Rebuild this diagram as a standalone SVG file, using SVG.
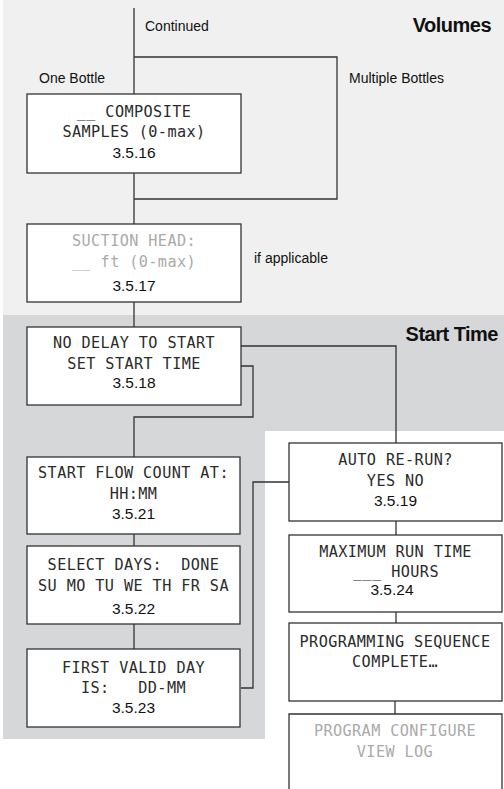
<svg xmlns="http://www.w3.org/2000/svg" width="504" height="789" viewBox="0 0 504 789">
<style>
.box{fill:#fff;stroke:#333;stroke-width:1.3}
.ln{fill:none;stroke:#333;stroke-width:1.3}
.m{font-family:"DejaVu Sans Mono","Liberation Mono",monospace;font-size:15.2px;fill:#2b2b2b;text-anchor:middle;letter-spacing:0.4px}
.g{fill:#aaa}
.n{font-family:"Liberation Sans",Arial,sans-serif;font-size:15.5px;fill:#111;text-anchor:middle}
.l{font-family:"Liberation Sans",Arial,sans-serif;font-size:14px;fill:#111}
.h{font-family:"Liberation Sans",Arial,sans-serif;font-size:20px;font-weight:bold;fill:#111;letter-spacing:-0.5px}
</style>
<g id="backgrounds">
<rect x="3" y="0" width="501" height="315" fill="#eff0ef"/>
<path d="M3 315 H504 V431 H265 V739 H3 Z" fill="#d6d7d8"/>
</g>
<g id="section-labels">
<text class="h" x="491" y="32" text-anchor="end">Volumes</text>
<text class="h" x="498" y="341" text-anchor="end">Start Time</text>
<text class="l" x="145" y="31">Continued</text>
<text class="l" x="39" y="83">One Bottle</text>
<text class="l" x="349" y="83">Multiple Bottles</text>
<text class="l" x="254" y="263">if applicable</text>
</g>
<g id="connectors">
<path class="ln" d="M134 8 V94"/>
<path class="ln" d="M134 57 H337 V199 H134"/>
<path class="ln" d="M134 173 V224"/>
<path class="ln" d="M134 302 V327"/>
<path class="ln" d="M241 346 H396 V443"/>
<path class="ln" d="M241 366 H253 V417 H134 V457"/>
<path class="ln" d="M134 534 V546"/>
<path class="ln" d="M134 624 V649"/>
<path class="ln" d="M241 688 H253 V482 H289"/>
<path class="ln" d="M396 521 V535"/>
<path class="ln" d="M396 612 V623"/>
<path class="ln" d="M395 701 V714"/>
</g>
<g id="n3516">
<rect class="box" x="27" y="94" width="214" height="79"/>
<text class="m" x="134" y="116.5">__ COMPOSITE</text>
<text class="m" x="134" y="136.5">SAMPLES (0-max)</text>
<text class="n" x="134" y="157.5">3.5.16</text>
</g>
<g id="n3517">
<rect class="box" x="27" y="224" width="214" height="78"/>
<text class="m g" x="134" y="246">SUCTION HEAD:</text>
<text class="m g" x="134" y="267">__ ft (0-max)</text>
<text class="n" x="134" y="291">3.5.17</text>
</g>
<g id="n3518">
<rect class="box" x="27" y="327" width="214" height="78"/>
<text class="m" x="134" y="348">NO DELAY TO START</text>
<text class="m" x="134" y="369">SET START TIME</text>
<text class="n" x="134" y="388">3.5.18</text>
</g>
<g id="n3521">
<rect class="box" x="27" y="457" width="213" height="77"/>
<text class="m" x="133.5" y="478">START FLOW COUNT AT:</text>
<text class="m" x="133.5" y="499">HH:MM</text>
<text class="n" x="133.5" y="519">3.5.21</text>
</g>
<g id="n3522">
<rect class="box" x="27" y="546" width="213" height="78"/>
<text class="m" x="133.5" y="570" xml:space="preserve">SELECT DAYS:  DONE</text>
<text class="m" x="133.5" y="591">SU MO TU WE TH FR SA</text>
<text class="n" x="133.5" y="614">3.5.22</text>
</g>
<g id="n3523">
<rect class="box" x="27" y="649" width="213" height="78"/>
<text class="m" x="133.5" y="673">FIRST VALID DAY</text>
<text class="m" x="133.5" y="693" xml:space="preserve">IS:   DD-MM</text>
<text class="n" x="133.5" y="713">3.5.23</text>
</g>
<g id="n3519">
<rect class="box" x="289" y="443" width="213" height="78"/>
<text class="m" x="395.5" y="465">AUTO RE-RUN?</text>
<text class="m" x="395.5" y="486">YES NO</text>
<text class="n" x="395.5" y="506">3.5.19</text>
</g>
<g id="n3524">
<rect class="box" x="289" y="535" width="213" height="77"/>
<text class="m" x="395.5" y="557">MAXIMUM RUN TIME</text>
<text class="m" x="396" y="577">___ HOURS</text>
<text class="n" x="392" y="595">3.5.24</text>
</g>
<g id="complete">
<rect class="box" x="289" y="623" width="213" height="78"/>
<text class="m" x="395" y="647">PROGRAMMING SEQUENCE</text>
<text class="m" x="395" y="667">COMPLETE…</text>
</g>
<g id="main-menu">
<path class="box" d="M289 795 V714 H502 V795"/>
<text class="m g" x="395" y="736">PROGRAM CONFIGURE</text>
<text class="m g" x="395" y="757">VIEW LOG</text>
</g>
</svg>
